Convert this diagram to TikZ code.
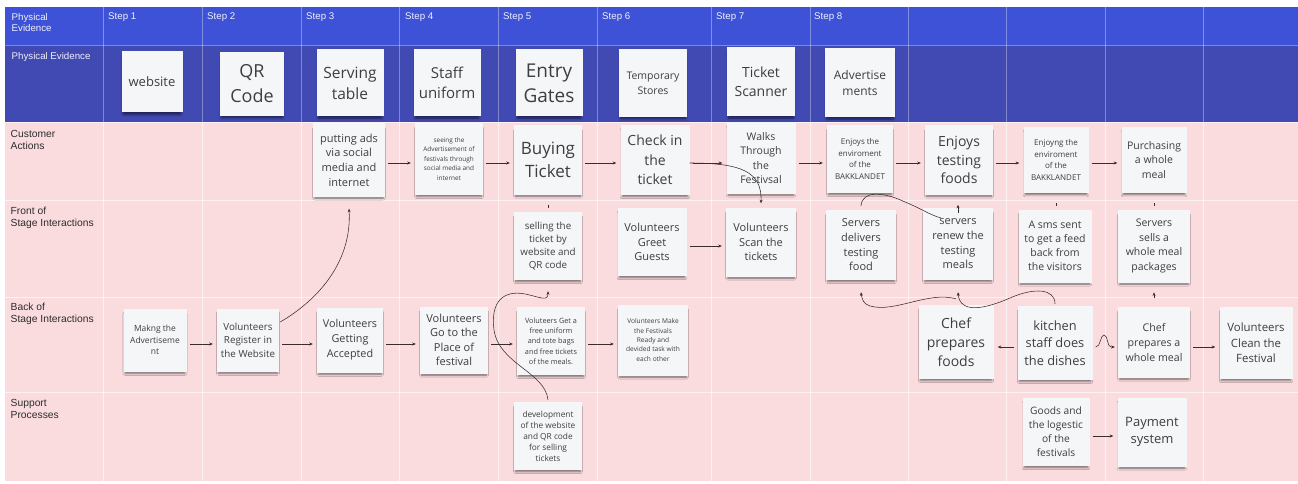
\documentclass[tikz,border=0pt]{standalone}
\usepackage{fontspec}
\setmainfont{Liberation Sans}
\newfontfamily\osans{Open Sans}
\usetikzlibrary{arrows.meta,shadows.blur,calc}
\definecolor{hdrA}{RGB}{61,82,214}
\definecolor{hdrB}{RGB}{65,73,178}
\definecolor{pinkbg}{RGB}{250,220,223}
\definecolor{notebg}{RGB}{245,246,248}
\definecolor{notetx}{RGB}{62,62,64}
\definecolor{arrc}{RGB}{55,45,45}
\definecolor{lbl}{RGB}{45,45,45}
\tikzset{
  note/.style={fill=notebg, align=center, text=notetx, inner sep=0pt,
    blur shadow={shadow xshift=0pt, shadow yshift=-3.5pt, shadow blur radius=2.2pt, shadow opacity=55, shadow scale=0.95}},
  sz/.style 2 args={minimum width=#1pt, minimum height=#2pt},
  fs/.style 2 args={font=\osans\fontsize{#1}{#2}\selectfont},
  hlbl/.style={font=\fontsize{9.7}{11.5}\selectfont, text=white!92!hdrA, align=left, inner sep=0pt, anchor=north west},
  rlbl/.style={font=\fontsize{10.3}{11.7}\selectfont, text=lbl, align=left, inner sep=0pt, anchor=north west},
  gridB/.style={draw=white, draw opacity=0.35, line width=0.8pt},
  gridP/.style={draw=white, draw opacity=0.6, line width=0.8pt},
  arr/.style={draw=arrc, line width=0.55pt, -{Stealth[length=3.6pt,width=3pt]}, shorten <=3pt, shorten >=4pt},
  crv/.style={draw=arrc, line width=0.55pt, -{Stealth[length=3.6pt,width=3pt]}},
  crvn/.style={draw=arrc, line width=0.55pt},
}
\begin{document}
\begin{tikzpicture}[x=1pt,y=-1pt]
\useasboundingbox (0,0) rectangle (1298,484);
\fill[white] (0,0) rectangle (1298,484);
\fill[hdrA] (5,7) rectangle (1298,45);
\fill[hdrB] (5,45) rectangle (1298,122);
\fill[pinkbg] (5,122) rectangle (1298,481);
\foreach \x in {103,202,301,399,498,597,711,810,908,1006,1105,1203} {
  \draw[gridB] (\x,7) -- (\x,122);
  \draw[gridP] (\x,122) -- (\x,481);
}
\draw[gridB] (5,45) -- (1298,45);
\foreach \y in {122,200,297,392} { \draw[gridP] (5,\y) -- (1298,\y); }

% header labels
\node[hlbl] (hpe) at (11.5,13) {Physical\\Evidence};
\node[hlbl] (st1) at (108,13) {Step 1};
\node[hlbl] (st2) at (207,13) {Step 2};
\node[hlbl] (st3) at (306,13) {Step 3};
\node[hlbl] (st4) at (405,13) {Step 4};
\node[hlbl] (st5) at (503,13) {Step 5};
\node[hlbl] (st6) at (602,13) {Step 6};
\node[hlbl] (st7) at (716,13) {Step 7};
\node[hlbl] (st8) at (814,13) {Step 8};
\node[hlbl] (rpe) at (11.5,52) {Physical Evidence};
\node[rlbl] (rca) at (10.5,130) {Customer\\Actions};
\node[rlbl] (rfs) at (10.5,207) {Front of\\Stage Interactions};
\node[rlbl] (rbs) at (10.5,303) {Back of\\Stage Interactions};
\node[rlbl] (rsp) at (10.5,399) {Support\\Processes};

% physical evidence notes
\node[note, sz={61}{61}, fs={13}{17}] (pe1) at (152,82) {website};
\node[note, sz={64}{64}, fs={18}{25}] (pe2) at (252,84) {QR\\Code};
\node[note, sz={67}{67}, fs={15.5}{21}] (pe3) at (350,83) {Serving\\table};
\node[note, sz={67}{67}, fs={15}{20.5}] (pe4) at (447,83) {Staff\\uniform};
\node[note, sz={67}{67}, fs={19}{25}] (pe5) at (549,83) {Entry\\Gates};
\node[note, sz={68}{68}, fs={10.5}{15}] (pe6) at (653,83) {Temporary\\Stores};
\node[note, sz={68}{69}, fs={14}{19}] (pe7) at (761,82) {Ticket\\Scanner};
\node[note, sz={70}{69}, fs={12}{16.5}] (pe8) at (860,83) {Advertise\\ments};

% customer actions
\node[note, sz={72}{73}, fs={11}{14.7}] (c3) at (349,160) {putting ads\\via social\\media and\\internet};
\node[note, sz={68}{72}, fs={6.4}{9.5}] (c4) at (449,159) {seeing the\\Advertisement of\\festivals through\\social media and\\internet};
\node[note, sz={68}{69}, fs={17}{23}] (c5) at (548,160) {Buying\\Ticket};
\node[note, sz={69}{70}, fs={14}{19.5}] (c6) at (655,160) {Check in\\the\\ticket};
\node[note, sz={69}{71}, fs={10.5}{14.3}] (c7) at (761,158) {Walks\\Through\\the\\Festivsal};
\node[note, sz={66}{68}, fs={8}{11.5}] (c8) at (860,159) {Enjoys the\\enviroment\\of the\\BAKKLANDET};
\node[note, sz={68}{69}, fs={14}{18.5}] (c9) at (959,160) {Enjoys\\testing\\foods};
\node[note, sz={65}{66}, fs={8}{11.5}] (c10) at (1056,160) {Enjoyng the\\enviroment\\of the\\BAKKLANDET};
\node[note, sz={65}{66}, fs={10.5}{14.5}] (c11) at (1154,160) {Purchasing\\a whole\\meal};

% front of stage
\node[note, sz={68}{68}, fs={9.8}{13}] (f5) at (548,246) {selling the\\ticket by\\website and\\QR code};
\node[note, sz={69}{68}, fs={11}{14.5}] (f6) at (652,242) {Volunteers\\Greet\\Guests};
\node[note, sz={70}{69}, fs={11}{14.5}] (f7) at (761,242) {Volunteers\\Scan the\\tickets};
\node[note, sz={70}{70}, fs={11}{14.7}] (f8) at (861,245) {Servers\\delivers\\testing\\food};
\node[note, sz={70}{72}, fs={11}{14.7}] (f9) at (958,244) {servers\\renew the\\testing\\meals};
\node[note, sz={73}{73}, fs={10.5}{14}] (f10) at (1055,246) {A sms sent\\to get a feed\\back from\\the visitors};
\node[note, sz={72}{73}, fs={10.5}{14.5}] (f11) at (1154,246) {Servers\\sells a\\whole meal\\packages};

% back of stage
\node[note, sz={63}{63}, fs={8.5}{11.7}] (b1) at (155,340) {Makng the\\Advertiseme\\nt};
\node[note, sz={62}{63}, fs={9.8}{13.5}] (b2) at (248,340) {Volunteers\\Register in\\the Website};
\node[note, sz={66}{65}, fs={10.8}{15}] (b3) at (350,340) {Volunteers\\Getting\\Accepted};
\node[note, sz={68}{67}, fs={11}{14.5}] (b4) at (454,340) {Volunteers\\Go to the\\Place of\\festival};
\node[note, sz={68}{68}, fs={7.3}{10.3}] (b5) at (551,341) {Voluteers Get a\\free uniform\\and tote bags\\and free tickets\\of the meals.};
\node[note, sz={70}{71}, fs={6.6}{9.4}] (b6) at (653,340) {Volunteers Make\\the Festivals\\Ready and\\devided task with\\each other};
\node[note, sz={75}{74}, fs={14}{19}] (b10) at (956,342) {Chef\\prepares\\foods};
\node[note, sz={75}{74}, fs={12.8}{17.5}] (b11) at (1055,343) {kitchen\\staff does\\the dishes};
\node[note, sz={72}{71}, fs={10.6}{15}] (b12) at (1154,342) {Chef\\prepares a\\whole meal};
\node[note, sz={73}{72}, fs={11.4}{15.5}] (b13) at (1256,343) {Volunteers\\Clean the\\Festival};

% support
\node[note, sz={68}{68}, fs={8.3}{11}] (s5) at (548,436) {development\\of the website\\and QR code\\for selling\\tickets};
\node[note, sz={67}{68}, fs={10.2}{14}] (s11) at (1056,432) {Goods and\\the logestic\\of the\\festivals};
\node[note, sz={69}{69}, fs={13}{17.7}] (s12) at (1152,432) {Payment\\system};

% row levels for straight connectors
\coordinate (ya) at (0,163);
\coordinate (yf) at (0,246);
\coordinate (yb) at (0,344);
\coordinate (yk) at (0,347);
\coordinate (ys) at (0,436);

% customer row arrows
\draw[arr] (c3.east |- ya) -- (c4.west |- ya);
\draw[arr] (c4.east |- ya) -- (c5.west |- ya);
\draw[arr] (c5.east |- ya) -- (c6.west |- ya);
\draw[arr] (c6.east |- ya) -- (c7.west |- ya);
\draw[arr] (c7.east |- ya) -- (c8.west |- ya);
\draw[arr] (c8.east |- ya) -- (c9.west |- ya);
\draw[arr] (c9.east |- ya) -- (c10.west |- ya);
\draw[arr] (c10.east |- ya) -- (c11.west |- ya);
% front row
\draw[arr] (f6.east |- yf) -- (f7.west |- yf);
% back row
\draw[arr] (b1.east |- yb) -- (b2.west |- yb);
\draw[arr] (b2.east |- yb) -- (b3.west |- yb);
\draw[arr] (b3.east |- yb) -- (b4.west |- yb);
\draw[arr] (b4.east |- yb) -- (b5.west |- yb);
\draw[arr] (b5.east |- yb) -- (b6.west |- yb);
\draw[arr] (b11.west |- yk) -- (b10.east |- yk);
\draw[arr] (b12.east |- yk) -- (b13.west |- yk);
\draw[crv] ([xshift=3pt]b11.east |- yk) .. controls (1101,347) and (1100,335) .. (1104,335)
   .. controls (1108,335) and (1107,347) .. (1111,347) -- ([xshift=-3pt]b12.west |- yk);
% support row
\draw[arr] (s11.east |- ys) -- (s12.west |- ys);

% curved connectors
\draw[crv] ([yshift=18pt,xshift=1pt]b2.east) .. controls (318,300) and (352,262) .. ([yshift=-12pt]c3.south);
\draw[crv] ([yshift=-3pt]c6.east) .. controls (742,163) and (762,172) .. ([yshift=4pt]f7.north);
\draw[crvn] ([yshift=4pt]f8.north) .. controls (862,191) and (882,191) .. (905,202)
   .. controls (920,208) and (930,215) .. (941,218);
\draw[crv] ([yshift=-5pt]f9.north) -- ([yshift=3pt]f9.north);
\draw[crv] ([yshift=6pt]b10.north) .. controls (928,291) and (895,313) .. (870,306)
   .. controls (864,304) and (862,300) .. ([yshift=-12pt]f8.south);
\draw[crv] ([yshift=2pt]b11.north) .. controls (1055,289) and (1035,287) .. (1010,298)
   .. controls (985,309) and (960,314) .. ([yshift=-12pt]f9.south);
\draw[crv] ([yshift=2pt]s5.north) .. controls (545,372) and (499,364) .. (494,330)
   .. controls (490,300) and (505,290) .. (525,294)
   .. controls (540,297) and (548,302) .. ([yshift=-11pt]f5.south);
\draw[crv] ([yshift=8pt]b12.north) -- ([yshift=14pt]b12.north);
% tiny ticks
\draw[crvn] ([yshift=-10pt]c5.south) -- ([yshift=-13pt]c5.south);
\draw[crvn] ([yshift=-10pt]c10.south) -- ([yshift=-13pt]c10.south);
\draw[crvn] ([yshift=-10pt]c11.south) -- ([yshift=-13pt]c11.south);
\end{tikzpicture}
\end{document}
